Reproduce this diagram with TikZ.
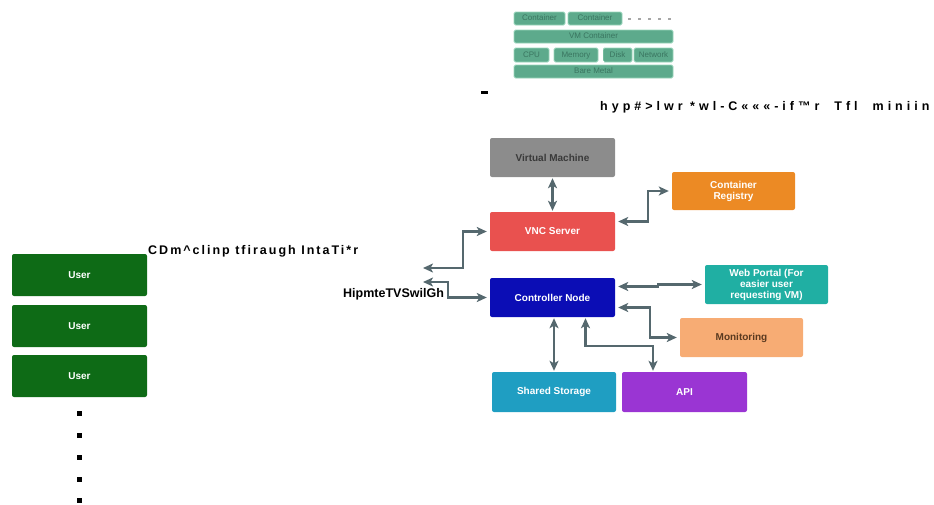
\documentclass[tikz,border=0pt]{standalone}
\usepackage{fontspec}
\setmainfont{Liberation Sans}
\usetikzlibrary{arrows.meta,calc}

\definecolor{usergreen}{HTML}{0E6B16}
\definecolor{vmgray}{HTML}{8C8C8C}
\definecolor{vmtext}{HTML}{3A3A3A}
\definecolor{regorange}{HTML}{EC8A24}
\definecolor{vncred}{HTML}{E9514F}
\definecolor{ctrlblue}{HTML}{0B0DB5}
\definecolor{webteal}{HTML}{20AFA3}
\definecolor{monorange}{HTML}{F7AC74}
\definecolor{montext}{HTML}{5A3A20}
\definecolor{stoblue}{HTML}{1F9EC2}
\definecolor{apipurple}{HTML}{9A35D3}
\definecolor{stackfill}{HTML}{5DAA8C}
\definecolor{stackedge}{HTML}{9AD6BC}
\definecolor{stacktext}{HTML}{3A7560}
\definecolor{linkgray}{HTML}{55686E}

\tikzset{
  box/.style={rectangle, rounded corners=2pt, inner sep=1pt, align=center,
    font=\fontsize{10}{11}\selectfont\bfseries, text=white},
  userbox/.style={box, fill=usergreen, minimum width=135pt, minimum height=42pt},
  mainbox/.style={box, minimum width=125pt, minimum height=39pt},
  layer/.style={rectangle, rounded corners=1.5pt, fill=stackfill, draw=stackedge,
    line width=0.8pt, inner sep=0pt, text=stacktext, text height=5.8pt, text depth=1.7pt,
    font=\fontsize{8}{9}\selectfont},
  linktip/.tip={Stealth[length=10pt,width=9pt,inset=2.5pt]},
  link/.style={draw=linkgray, line width=2.2pt, {linktip}-{linktip}},
  tag/.style={font=\fontsize{12.5}{14}\selectfont\bfseries, inner sep=0pt, text=black},
}

\begin{document}
\begin{tikzpicture}[x=1pt,y=-1pt]
\useasboundingbox (0,0) rectangle (934,504);

% ---- layer stack (top) ----
\node[layer, minimum width=51pt, minimum height=13pt] (c1) at (539.5,18.5) {Container};
\node[layer, minimum width=54pt, minimum height=13pt] (c2) at (595,18.5) {Container};
\foreach \i in {0,...,4}
  \fill[gray!70] (628+10*\i,17.5) rectangle ++(2.5,2.5);
\node[layer, minimum width=159pt, minimum height=13pt] (vmc) at (593.5,36.5) {VM Container};
\node[layer, minimum width=35pt, minimum height=14pt] (cpu) at (531.5,55) {CPU};
\node[layer, minimum width=44pt, minimum height=14pt] (mem) at (576,55) {Memory};
\node[layer, minimum width=29pt, minimum height=14pt] (disk) at (617.5,55) {Disk};
\node[layer, minimum width=39pt, minimum height=14pt] (net) at (653.5,55) {Network};
\node[layer, minimum width=159pt, minimum height=13pt] (bm) at (593.5,71.5) {Bare Metal};
\foreach \x in {552,602}{
  \draw[white, line width=1.2pt] (\x,44) -- (\x,61);
  \draw[white, line width=1pt] (\x-2,44) -- (\x+2,44) (\x-2,61) -- (\x+2,61);
}

% ---- loose marks and labels ----
\fill (480.5,90.5) rectangle (487.5,93.5);
\node[tag, anchor=west] (cap) at (600,107)
  {\addfontfeature{LetterSpace=32}hyp\#>lwr *wl-C«««-if™r~~Tfl~~miniin};
\node[tag, anchor=west] (via) at (148,251)
  {\addfontfeature{LetterSpace=16}CDm\^{}clinp tfiraugh IntaTi*r};
\node[tag, anchor=west] (hyp) at (343,294) {HipmteTVSwilGh};

% ---- users ----
\node[userbox] (u1) at (79.5,275) {User};
\node[userbox] (u2) at (79.5,326) {User};
\node[userbox] (u3) at (79.5,376) {User};
\foreach \y in {413,435,457,479,500}
  \fill (77,\y-2) rectangle ++(4.5,4.5);

% ---- system blocks ----
\node[mainbox, fill=vmgray, text=vmtext] (vm) at (552.5,157.5) {Virtual Machine};
\node[mainbox, fill=regorange, minimum width=123pt, minimum height=38pt] (reg) at (733.5,191) {Container\\Registry};
\node[mainbox, fill=vncred] (vnc) at (552.5,231.5) {VNC Server};
\node[mainbox, fill=ctrlblue] (ctrl) at (552.5,297.5) {Controller Node};
\node[mainbox, fill=webteal, minimum width=123pt] (web) at (766.5,284.5) {Web Portal (For\\easier user\\requesting VM)};
\node[mainbox, fill=monorange, text=montext, minimum width=123pt] (mon) at (741.5,337.5) {Monitoring};
\node[mainbox, fill=stoblue, minimum width=124pt, minimum height=40pt] (sto) at (554,392) {Shared Storage};
\node[mainbox, fill=apipurple, minimum height=40pt] (api) at (684.5,392) {API};

% ---- free ends on the left ----
\coordinate (outa) at (423,268);
\coordinate (outb) at (423,282);

% ---- connectors ----
\draw[link] ([yshift=-1pt]vm.south) -- ([yshift=1pt]vnc.north);
\draw[link] ([xshift=3pt,yshift=10pt]vnc.east) -- ++(30,0) |- ([xshift=-3pt]reg.west);
\draw[link] ([xshift=-3pt]vnc.west) -- (463,231.5) |- (outa);
\draw[link] ([xshift=-3pt]ctrl.west) -- (448,297.5) |- (outb);
\draw[link] ([xshift=3pt,yshift=11pt]ctrl.east) -- ++(40,0) |- ([xshift=-3pt]web.west);
\draw[link] ([xshift=3pt,yshift=-10pt]ctrl.east) -- ++(32,0) |- ([xshift=-3pt]mon.west);
\draw[link] ([yshift=-1pt]sto.north |- ctrl.south) -- ([yshift=1pt]sto.north);
\draw[link] ([xshift=33pt,yshift=-1pt]ctrl.south) -- ++(0,28) -| ([xshift=-31.5pt,yshift=1pt]api.north);
\end{tikzpicture}
\end{document}
